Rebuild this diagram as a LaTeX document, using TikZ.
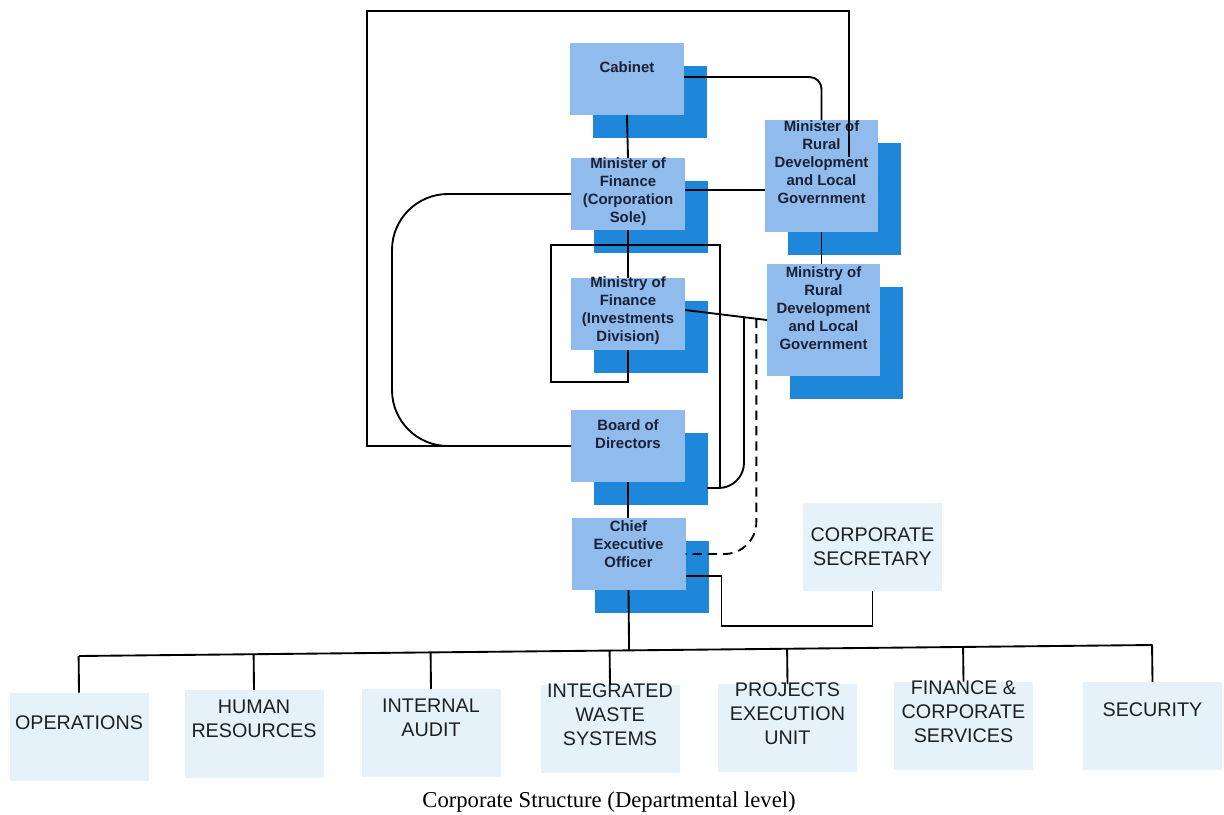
\documentclass[tikz,border=0pt]{standalone}
\usepackage{fontspec}
\setmainfont{Liberation Sans}
\newfontfamily\capfont{Liberation Serif}
\usetikzlibrary{calc}

\definecolor{boxlight}{RGB}{143,188,237}
\definecolor{boxdark}{RGB}{31,135,218}
\definecolor{boxpale}{RGB}{229,242,249}
\definecolor{navytext}{RGB}{28,32,52}

% a light blue box with its darker drop shadow behind it
\newcommand\orgbox[4]{%
  \node[darkbox,#4] (#1S) at ($(#2,#3)+(23,23)$) {};
  \node[lightbox,#4] (#1) at (#2,#3) {};
}

\begin{document}
\begin{tikzpicture}[x=0.75pt,y=-0.75pt,
  lightbox/.style={fill=boxlight, draw=none, inner sep=0pt, outer sep=0pt},
  darkbox/.style={fill=boxdark, draw=none, inner sep=0pt, outer sep=0pt},
  sq/.style={minimum width=85.5pt, minimum height=54pt},
  tallsq/.style={minimum width=84.75pt, minimum height=84pt},
  palebox/.style={fill=boxpale, draw=none, inner sep=0pt, outer sep=0pt,
    minimum width=104.25pt, minimum height=66pt},
  boxlbl/.style={font=\fontsize{11.2}{13.5}\selectfont\bfseries, text=navytext,
    align=center, inner sep=0pt},
  deptlbl/.style={font=\fontsize{14.8}{18}\selectfont, text=black!88,
    align=center, inner sep=0pt},
  conn/.style={draw=black, line width=1.4pt},
  dashconn/.style={conn, dash pattern=on 7pt off 4.5pt}]

\useasboundingbox[fill=white] (0,0) rectangle (1224,814);

% ---- upper hierarchy -------------------------------------------------
\orgbox{cab}{627}{79}{sq}
\orgbox{mof}{628}{194}{sq}
\orgbox{mfi}{628}{314}{sq}
\orgbox{bod}{628}{446}{sq}
\orgbox{ceo}{628.5}{554}{sq}
\orgbox{mrdA}{821.5}{176}{tallsq}
\orgbox{mrdB}{823.5}{320}{tallsq}

\node[boxlbl] (cabT) at ($(cab.north)+(0,24)$) {Cabinet};
\node[boxlbl] (mofT) at ($(mof.north)+(0,33.5)$) {Minister of\\Finance\\(Corporation\\Sole)};
\node[boxlbl] (mfiT) at ($(mfi.north)+(0,32.5)$) {Ministry of\\Finance\\(Investments\\Division)};
\node[boxlbl] (bodT) at ($(bod.north)+(0,24)$) {Board of\\Directors};
\node[boxlbl] (ceoT) at ($(ceo.north)+(0,26.5)$) {Chief\\Executive\\Officer};
\node[boxlbl] (mrdAT) at ($(mrdA.north)+(0,42.5)$) {Minister of\\Rural\\Development\\and Local\\Government};
\node[boxlbl] (mrdBT) at ($(mrdB.north)+(0,44)$) {Ministry of\\Rural\\Development\\and Local\\Government};

% ---- corporate secretary and departments -----------------------------
\node[palebox] (cs) at (872.5,546.5) {};
\node[deptlbl] (csT) at (cs.center) {CORPORATE\\SECRETARY};

\node[palebox] (ops) at (79,736.5) {};
\node[palebox] (hr)  at (254,734) {};
\node[palebox] (ia)  at (431,733) {};
\node[palebox] (iws) at (610,729) {};
\node[palebox] (peu) at (787.5,728) {};
\node[palebox] (fcs) at (963.5,725.5) {};
\node[palebox] (sec) at (1152.5,726) {};

\node[deptlbl] (opsT) at ($(ops.center)+(0,-14)$) {OPERATIONS};
\node[deptlbl] (hrT)  at ($(hr.center)+(0,-15)$) {HUMAN\\RESOURCES};
\node[deptlbl] (iaT)  at ($(ia.center)+(0,-15)$) {INTERNAL\\AUDIT};
\node[deptlbl] (iwsT) at ($(iws.center)+(0,-14)$) {INTEGRATED\\WASTE\\SYSTEMS};
\node[deptlbl] (peuT) at ($(peu.center)+(0,-14)$) {PROJECTS\\EXECUTION\\UNIT};
\node[deptlbl] (fcsT) at ($(fcs.center)+(0,-14)$) {FINANCE \&\\CORPORATE\\SERVICES};
\node[deptlbl] (secT) at ($(sec.center)+(0,-16)$) {SECURITY};

% ---- reporting lines -------------------------------------------------
\draw[conn] (cab.south) -- (mof.north);
\draw[conn, rounded corners=9pt] ([yshift=1.5pt]cab.east) -| (mrdA.north);
\coordinate (mofE) at ([yshift=3pt]mof.east);
\draw[conn] (mofE) -- (mofE -| mrdA.west);
\draw[conn] (mof.south) -- (mfi.north);
\draw[conn] (mrdA.south) -- (mrdA.south |- mrdB.north);
\draw[conn] (bod.south) -- (bod.south |- ceo.north);

% outer frame from the rural development minister round to the board
\coordinate (frIn) at (849,157);
\coordinate (frTL) at (367,11);
\draw[conn] (frIn) |- (frTL) |- (bod.west);

% rounded loop from the finance minister to the board
\coordinate (loopL) at (392,320);
\draw[conn, rounded corners=42pt] (mof.west) -| (loopL) |- (bod.west);

% frame around the investments division
\coordinate (ifBL) at (551,382);
\coordinate (ifTL) at (551,245);
\coordinate (bodR) at ($(bod.south east)+(22,6)$);
\coordinate (ifR) at ($(bodR)+(13,0)$);
\draw[conn] (mfi.south) |- (ifBL) -- (ifTL) -| (ifR);

% investments division to the rural development ministry
\coordinate (mfiE) at ([yshift=3pt]mfi.east);
\draw[conn] (mfiE) -- (mrdB.west);
\coordinate (jA) at ($(mfiE)!0.72!(mrdB.west)$);
\coordinate (jB) at ($(mfiE)!0.87!(mrdB.west)$);
\draw[conn, rounded corners=19pt] (jA) |- (bodR);
\draw[dashconn, rounded corners=24pt] (jB) |- (ceo.east);

% chief executive to the corporate secretary
\draw[conn] ([yshift=-16.5pt]ceo.east) -- ++(36,0) -- ++(0,50) -| (cs.south);

% departmental bus
\coordinate (busL) at (ops.north |- 0,656);
\coordinate (busR) at (sec.north |- 0,645);
\draw[conn] (busL) -- (busR);
\draw[conn] (ceo.south) -- ($(busL)!(ceo.south)!(busR)$);
\foreach \d in {ops,hr,ia,iws,peu,fcs,sec}
  \draw[conn] (\d.north) -- ($(busL)!(\d.north)!(busR)$);

% ---- caption ---------------------------------------------------------
\node[font=\capfont\fontsize{17}{20}\selectfont, inner sep=0pt] (cap) at (609,802)
  {Corporate Structure (Departmental level)};

\end{tikzpicture}
\end{document}
